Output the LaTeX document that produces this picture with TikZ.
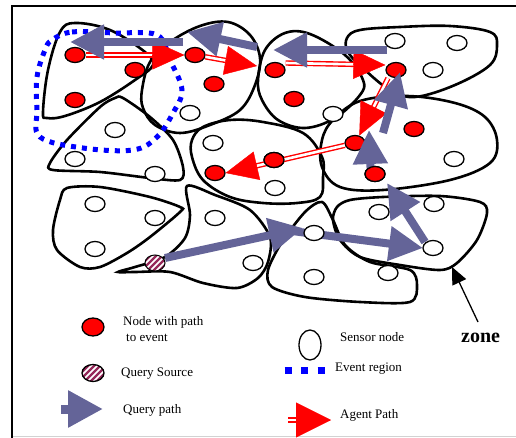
\documentclass[tikz,border=0pt]{standalone}
\usepackage{fontspec}
\setmainfont{Liberation Serif}
\usetikzlibrary{shapes.geometric,arrows.meta,calc}
\definecolor{qcol}{RGB}{100,100,152}
\definecolor{stripecol}{RGB}{150,40,90}
\begin{document}
\begin{tikzpicture}[x=1pt,y=-1pt,
  zoneline/.style={draw=black, line width=2.6pt},
  rnode/.style={ellipse, draw=black, fill=red, line width=1.3pt, minimum width=20pt, minimum height=15pt, inner sep=0pt},
  wnode/.style={ellipse, draw=black, fill=white, line width=1.3pt, minimum width=20pt, minimum height=15pt, inner sep=0pt},
  qpath/.style={draw=qcol, line width=8pt, -{Triangle[length=34pt,width=33pt]}},
  agentshaft/.style={draw=red, line width=1.4pt, double=white, double distance=2.6pt},
  agenthead/.style={draw=red, fill=red, line width=0.4pt, -{Triangle[length=32pt,width=29pt]}},
  evregion/.style={draw=blue, line width=5pt, dash pattern=on 5pt off 6pt},
  lbl/.style={font=\fontsize{13}{16}\selectfont, anchor=west, inner sep=0pt, align=left}
]
\useasboundingbox (0,0) rectangle (516,438);
% frame
\draw[gray!35, line width=1pt] (12,436.5) -- (516,436.5);
\draw[line width=1.5pt] (12,438) -- (12,6) -- (516,6);

% zones
\draw[zoneline] plot[smooth cycle, tension=0.6] coordinates {(43,112) (48,70) (60,32) (75,23) (110,30) (145,52) (153,65) (135,80) (100,102) (65,116) (47,118)};
\draw[zoneline] plot[smooth cycle, tension=0.6] coordinates {(142,90) (150,62) (170,42) (200,26) (228,22) (250,35) (260,58) (255,85) (240,110) (210,125) (180,133) (155,125) (143,108)};
\draw[zoneline] plot[smooth cycle, tension=0.6] coordinates {(258,80) (265,50) (285,33) (310,34) (345,55) (363,80) (360,95) (335,118) (305,128) (278,120) (262,100)};
\draw[zoneline] plot[smooth cycle, tension=0.6] coordinates {(347,38) (360,30) (400,27) (450,26) (490,32) (497,45) (490,65) (455,85) (415,97) (390,90) (365,70) (348,52)};
\draw[zoneline] plot[smooth cycle, tension=0.6] coordinates {(333,120) (360,101) (407,96) (455,103) (485,117) (497,140) (490,163) (450,180) (383,190) (340,187) (322,167) (322,140)};
\draw[zoneline] plot[smooth cycle, tension=0.6] coordinates {(192,140) (192,157) (203,180) (230,197) (263,203) (297,203) (320,197) (323,177) (322,157) (303,133) (263,122) (230,120) (203,127)};
\draw[zoneline] plot[smooth cycle, tension=0.5] coordinates {(123,98) (150,117) (173,140) (183,167) (180,180) (150,178) (100,172) (53,170) (50,163) (67,140) (100,107) (115,98)};
\draw[zoneline] plot[smooth cycle, tension=0.5] coordinates {(67,188) (100,187) (150,197) (180,207) (180,212) (150,237) (127,253) (100,267) (80,267) (57,250) (53,230) (60,200)};
\draw[zoneline] plot[smooth cycle, tension=0.5] coordinates {(187,186) (190,215) (185,238) (165,257) (135,267) (118,272) (135,272) (170,272) (203,283) (237,288) (258,278) (268,262) (270,237) (250,210) (215,195)};
\draw[zoneline] plot[smooth cycle, tension=0.5] coordinates {(322,202) (305,212) (282,242) (268,270) (272,287) (305,297) (360,302) (410,302) (417,285) (410,270) (370,262) (345,245) (333,220)};
\draw[zoneline] plot[smooth cycle, tension=0.5] coordinates {(350,200) (383,197) (440,196) (480,202) (487,213) (477,240) (457,263) (440,270) (400,265) (360,257) (340,240) (333,220) (337,207)};

% event region
\draw[evregion] plot[smooth cycle, tension=0.6] coordinates {(52,40) (72,32) (115,33) (157,35) (170,60) (182,90) (173,113) (157,137) (133,150) (83,148) (40,137) (37,110) (37,77) (45,50)};

% nodes
\node[rnode] (r1) at (75,55) {};
\node[rnode] (r2) at (135,70) {};
\node[rnode] (r3) at (75,100) {};
\node[rnode] (r4) at (195,55) {};
\node[rnode] (r5) at (214,84) {};
\node[rnode] (r7) at (275,70) {};
\node[rnode] (r8) at (294,99) {};
\node[rnode] (r10) at (396,70) {};
\node[rnode] (r11) at (414,129) {};
\node[rnode] (r12) at (355,143) {};
\node[rnode] (r13) at (274,160) {};
\node[rnode] (r14) at (215,173) {};
\node[rnode] (r15) at (375,174) {};

% agent paths
\coordinate (a2e) at (257,66);
\draw[agentshaft, shorten >=28pt] (r1.east) -- (r4.west);
\draw[agenthead] ($(r4.west)!1pt!(r1.east)$) -- (r4.west);
\draw[agentshaft, shorten >=28pt] (r4) -- (a2e);
\draw[agenthead] ($(a2e)!1pt!(r4)$) -- (a2e);
\draw[agentshaft, shorten >=28pt] ([yshift=7pt]r7.east) -- ([yshift=5pt]r10.west);
\draw[agenthead] ($([yshift=5pt]r10.west)!1pt!([yshift=7pt]r7.east)$) -- ([yshift=5pt]r10.west);
\draw[agentshaft, shorten >=28pt] ([xshift=-8pt]r10.south) -- (r12.60);
\draw[agenthead] ($(r12.60)!1pt!([xshift=-8pt]r10.south)$) -- (r12.60);
\draw[agentshaft, shorten >=28pt] (r12) -- (r14.east);
\draw[agenthead] ($(r14.east)!1pt!(r12)$) -- (r14.east);

% query path
\coordinate (q1s) at (165,258); \coordinate (q1e) at (303,228);
\coordinate (q2s) at (292,231); \coordinate (q2e) at (423,248);
\coordinate (q3s) at (425,242); \coordinate (q3e) at (387,183);
\coordinate (q4s) at (371,180); \coordinate (q4e) at (369,130);
\coordinate (q5s) at (383,133); \coordinate (q5e) at (400,72);
\coordinate (q6s) at (387,50);  \coordinate (q6e) at (273,50);
\coordinate (q7s) at (257,47);  \coordinate (q7e) at (187,32);
\coordinate (q8s) at (183,42);  \coordinate (q8e) at (70,42);
\foreach \i in {1,...,8} {\draw[qpath] (q\i s) -- (q\i e);}

% re-draw nodes over the paths
\node[rnode] at (r13) {};
\node[rnode] at (r15) {};

% white sensor nodes
\foreach \p [count=\k] in {(190,113),(333,114),(395,41),(457,43),(433,70),(454,159),(213,143),(275,188),(115,130),(75,159),(155,174),(95,204),(155,218),(95,249),(215,218),(253,263),(314,233),(314,277),(388,273),(379,212),(434,204),(433,248)}
  {\node[wnode] (w\k) at \p {};}

% query source
\node[ellipse, draw=black, fill=white, line width=1pt, minimum width=20pt, minimum height=16pt, inner sep=0pt,
  path picture={\foreach \k in {-12,-6,0,6,12} \draw[stripecol, line width=2.4pt] ($(path picture bounding box.center)+(\k pt,0pt)+(-9pt,-9pt)$) -- ++(18pt,18pt);}] (qs) at (155,263) {};

% zone label
\node[font=\bfseries\fontsize{20}{24}\selectfont, anchor=west, inner sep=0pt] (zonelabel) at (461,338) {zone};
\coordinate (zs) at (478,322); \coordinate (zt) at (452,267);
\draw[line width=1.3pt, -{Triangle[length=17pt,width=15pt]}] (zs) -- (zt);

% legend
\node[ellipse, draw=black, fill=red, line width=1.3pt, minimum width=22pt, minimum height=18pt, inner sep=0pt] (lgred) at (93,327) {};
\node[lbl] (lgredt) at (123,329) {Node with path\\\hspace{3pt}to event};
\node[ellipse, draw=black, fill=white, line width=1.3pt, minimum width=22pt, minimum height=17pt, inner sep=0pt,
  path picture={\foreach \k in {-12,-6,0,6,12} \draw[stripecol, line width=2.4pt] ($(path picture bounding box.center)+(\k pt,0pt)+(-10pt,-10pt)$) -- ++(20pt,20pt);}] (lgqs) at (93,373) {};
\node[lbl] (lgqst) at (121,374) {Query Source};
\coordinate (lgq1) at (61,409); \coordinate (lgq2) at (103,409);
\draw[draw=qcol, line width=9pt, -{Triangle[length=35pt,width=35pt]}] (lgq1) -- (lgq2);
\node[lbl] (lgqt) at (123,410) {Query path};
\node[ellipse, draw=black, fill=white, line width=1.3pt, minimum width=22pt, minimum height=30pt, inner sep=0pt] (lgw) at (310,345) {};
\node[lbl] (lgwt) at (340,337) {Sensor node};
\coordinate (lge1) at (284.5,370); \coordinate (lge2) at (324.5,370);
\draw[blue, line width=7pt, dash pattern=on 7pt off 9.5pt] (lge1) -- (lge2);
\node[lbl] (lget) at (335,369) {Event region};
\coordinate (lga1) at (288,420); \coordinate (lga2) at (331,420);
\draw[agentshaft, shorten >=30pt] (lga1) -- (lga2);
\draw[draw=red, fill=red, line width=0.4pt, -{Triangle[length=35pt,width=35pt]}] ($(lga2)!1pt!(lga1)$) -- (lga2);
\node[lbl] (lgat) at (340,415) {Agent Path};
\end{tikzpicture}
\end{document}
